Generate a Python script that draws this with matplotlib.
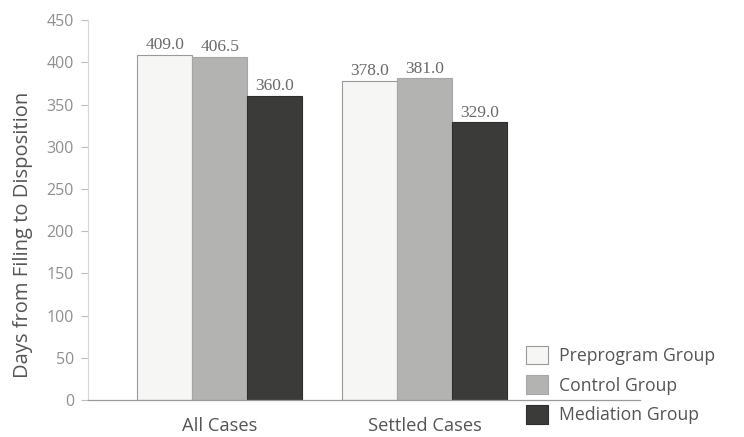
import matplotlib
matplotlib.use("Agg")
import matplotlib.pyplot as plt
import numpy as np
from matplotlib.patches import Patch

categories = ["All Cases", "Settled Cases"]
series_names = ["Preprogram Group", "Control Group", "Mediation Group"]
preprogram = [409.0, 378.0]
control = [406.5, 381.0]
mediation = [360.0, 329.0]
y_ticks = [0, 50, 100, 150, 200, 250, 300, 350, 400, 450]

series = [preprogram, control, mediation]
fills = ["#f6f6f4", "#b3b3b1", "#3b3b3a"]
edges = ["#9a9a9a", "#a6a6a6", "#2e2e2e"]

text_gray = "#6a6a6a"
sans = ["Open Sans", "DejaVu Sans"]
serif = ["Liberation Serif", "DejaVu Serif"]

fig = plt.figure(figsize=(7.44, 4.37), dpi=100)
ax = fig.add_axes([0.118, 0.0847, 0.742, 0.869])

x = np.arange(len(categories))
width = 0.268
offsets = [-width, 0, width]

for vals, off, fc, ec in zip(series, offsets, fills, edges):
    bars = ax.bar(x + off, vals, width, color=fc, edgecolor=ec, linewidth=0.8, zorder=2)
    for b, v in zip(bars, vals):
        ax.text(b.get_x() + b.get_width() / 2, v + 2, f"{v:.1f}",
                ha="center", va="bottom", fontsize=12.5, color=text_gray, family=serif)

ax.set_xlim(-0.644, 2.05)
ax.set_ylim(0, 450)
ax.set_yticks(y_ticks)
ax.set_yticklabels([str(t) for t in y_ticks], fontsize=11.5, color="#8f8f8f", family=sans)
ax.set_xticks(x)
ax.set_xticklabels(categories, fontsize=13.2, color="#555555", family=sans)
ax.tick_params(axis="x", length=0, pad=12)
ax.tick_params(axis="y", length=5, color="#bdbdbd", width=0.8, pad=5)

for side in ["top", "right"]:
    ax.spines[side].set_visible(False)
ax.spines["left"].set_color("#d8d8d8")
ax.spines["left"].set_linewidth(0.8)
ax.spines["bottom"].set_color("#9a9a9a")
ax.spines["bottom"].set_linewidth(0.9)

ax.set_ylabel("Days from Filing to Disposition", fontsize=14.5, color="#555555", family=sans)
ax.yaxis.set_label_coords(-0.1, 0.434)

handles = [Patch(facecolor=fc, edgecolor=ec, linewidth=0.8) for fc, ec in zip(fills, edges)]
ax.legend(handles, series_names, loc="center left", bbox_to_anchor=(0.686, 0.119),
          bbox_transform=fig.transFigure,
          frameon=False, labelcolor="#555555",
          handlelength=1.25, handleheight=1.25, handletextpad=0.6, labelspacing=0.6,
          prop={"family": sans, "size": 12.7})

fig.savefig("out.png", dpi=100, facecolor="white")
